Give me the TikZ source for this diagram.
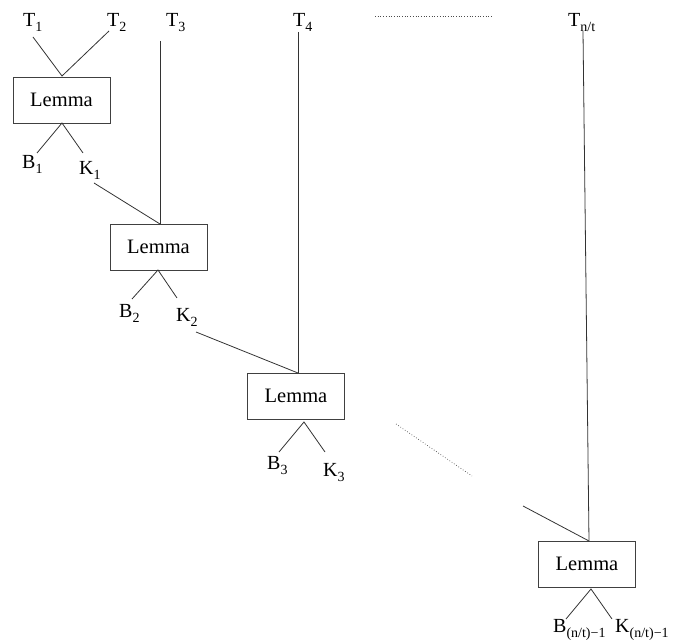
\documentclass[tikz,border=0pt]{standalone}
\usepackage{fontspec}
\setmainfont{Liberation Serif}
\newcommand\lbl[2]{#1\raisebox{-0.45ex}{\fontsize{14}{15}\selectfont #2}}
\begin{document}
\begin{tikzpicture}[x=1pt,y=-1pt,
 box/.style={draw=black!75, line width=0.8pt, minimum width=97pt, minimum height=46pt, inner sep=0pt, font=\fontsize{20.5}{23}\selectfont},
 lab/.style={inner sep=0pt, anchor=base west, font=\fontsize{20}{23}\selectfont},
 wire/.style={draw=black!80, line width=0.8pt},
 dots/.style={draw=black!70, dotted, line width=0.7pt}]
\useasboundingbox (0,0) rectangle (673,644);
% boxes
\node[box] (L1) at (61.5,100) {Lemma};
\node[box] (L2) at (158.5,247) {Lemma};
\node[box] (L3) at (296,396) {Lemma};
\node[box] (L4) at (587,564) {Lemma};
% labels
\node[lab] (T1) at (23,27) {\lbl{T}{1}};
\node[lab] (T2) at (107,27) {\lbl{T}{2}};
\node[lab] (T3) at (166,27) {\lbl{T}{3}};
\node[lab] (T4) at (293,27) {\lbl{T}{4}};
\node[lab] (Tn) at (568,27) {\lbl{T}{n/t}};
\node[lab] (B1) at (22,169) {\lbl{B}{1}};
\node[lab] (K1) at (79,175) {\lbl{K}{1}};
\node[lab] (B2) at (119,318) {\lbl{B}{2}};
\node[lab] (K2) at (176,322) {\lbl{K}{2}};
\node[lab] (B3) at (267,470) {\lbl{B}{3}};
\node[lab] (K3) at (323,477) {\lbl{K}{3}};
\node[lab] (Bn) at (553,633) {\lbl{B}{(n/t)\textminus 1}};
\node[lab] (Kn) at (615,633) {\lbl{K}{(n/t)\textminus 1}};
% junction and end coordinates
\coordinate (t1e) at (33,37);
\coordinate (t2e) at (109,31);
\coordinate (t3e) at (160,41);
\coordinate (t4e) at (298,32);
\coordinate (tne) at (583,31);
\coordinate (L1t) at (62,76);
\coordinate (L1b) at (62,123);
\coordinate (b1e) at (37,153);
\coordinate (k1e) at (83,153);
\coordinate (k1s) at (94,183);
\coordinate (L2t) at (160,224);
\coordinate (L2b) at (158,270);
\coordinate (b2e) at (132,299);
\coordinate (k2e) at (177,298);
\coordinate (k2s) at (196,332);
\coordinate (L3t) at (298,373);
\coordinate (L3b) at (304,422);
\coordinate (b3e) at (279,452);
\coordinate (k3e) at (325,452);
\coordinate (ds) at (396,424);
\coordinate (de) at (472,476);
\coordinate (hs) at (375,16);
\coordinate (he) at (492,16);
\coordinate (ks) at (523,506);
\coordinate (L4t) at (589,541);
\coordinate (L4b) at (591,589);
\coordinate (bne) at (566,619);
\coordinate (kne) at (612,619);
% connectors
\draw[wire] (t1e) -- (L1t) -- (t2e);
\draw[wire] (b1e) -- (L1b) -- (k1e);
\draw[wire] (t3e) -- (L2t);
\draw[wire] (k1s) -- (L2t);
\draw[wire] (b2e) -- (L2b) -- (k2e);
\draw[wire] (t4e) -- (L3t);
\draw[wire] (k2s) -- (L3t);
\draw[wire] (b3e) -- (L3b) -- (k3e);
\draw[dots] (ds) -- (de);
\draw[dots] (hs) -- (he);
\draw[wire] (ks) -- (L4t);
\draw[wire] (tne) -- (L4t);
\draw[wire] (bne) -- (L4b) -- (kne);
\end{tikzpicture}
\end{document}
